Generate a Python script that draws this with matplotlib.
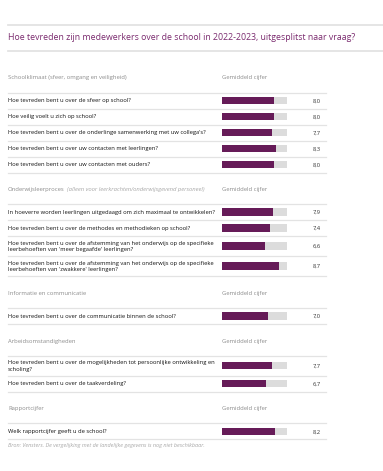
import matplotlib
matplotlib.use("Agg")
import matplotlib.pyplot as plt

# ---------------- data ----------------
title = "Hoe tevreden zijn medewerkers over de school in 2022-2023, uitgesplitst naar vraag?"
value_header = "Gemiddeld cijfer"
sections = [
    "Schoolklimaat (sfeer, omgang en veiligheid)",
    "Onderwijsleerproces",
    "Informatie en communicatie",
    "Arbeidsomstandigheden",
    "Rapportcijfer",
]
section_notes = [
    "",
    "(alleen voor leerkrachten/onderwijsgevend personeel)",
    "",
    "",
    "",
]
questions = [
    [
        "Hoe tevreden bent u over de sfeer op school?",
        "Hoe veilig voelt u zich op school?",
        "Hoe tevreden bent u over de onderlinge samenwerking met uw collega's?",
        "Hoe tevreden bent u over uw contacten met leerlingen?",
        "Hoe tevreden bent u over uw contacten met ouders?",
    ],
    [
        "In hoeverre worden leerlingen uitgedaagd om zich maximaal te ontwikkelen?",
        "Hoe tevreden bent u over de methodes en methodieken op school?",
        "Hoe tevreden bent u over de afstemming van het onderwijs op de specifieke\nleerbehoeften van 'meer begaafde' leerlingen?",
        "Hoe tevreden bent u over de afstemming van het onderwijs op de specifieke\nleerbehoeften van 'zwakkere' leerlingen?",
    ],
    [
        "Hoe tevreden bent u over de communicatie binnen de school?",
    ],
    [
        "Hoe tevreden bent u over de mogelijkheden tot persoonlijke ontwikkeling en\nscholing?",
        "Hoe tevreden bent u over de taakverdeling?",
    ],
    [
        "Welk rapportcijfer geeft u de school?",
    ],
]
scores = [
    [8.0, 8.0, 7.7, 8.3, 8.0],
    [7.9, 7.4, 6.6, 8.7],
    [7.0],
    [7.7, 6.7],
    [8.2],
]
scale_max = 10
footnote = "Bron: Vensters. De vergelijking met de landelijke gegevens is nog niet beschikbaar."

# ---------------- style / layout ----------------
W, H = 383, 471
FONT = "Open Sans"
PURPLE_T = "#7a2a6e"
PURPLE_B = "#661b58"
GREY_BG = "#dcdcdc"
LINE_C = "#e3e3e3"
HEAD_C = "#8c8c8c"

fig = plt.figure(figsize=(W / 100, H / 100), dpi=100)
fig.patch.set_facecolor("white")
ax = fig.add_axes([0, 0, 1, 1])
ax.set_xlim(0, W)
ax.set_ylim(H, 0)
ax.axis("off")

bar_x0, bar_x1 = 222, 287
bx = fig.add_axes([bar_x0 / W, 0, (bar_x1 - bar_x0) / W, 1])
bx.set_xlim(0, scale_max)
bx.set_ylim(H, 0)
bx.axis("off")

left = 8
table_right = 326
val_x = 321

# title block
ax.plot([left, W], [24.5, 24.5], color=LINE_C, lw=1.3)
ax.text(left, 38, title, fontsize=6.35, color=PURPLE_T, family=FONT, va="center", ha="left")
ax.plot([left, W], [51, 51], color=LINE_C, lw=1.3)

txt_size = 4.15
head_size = 4.2
cursor = 61.5
for si, sec in enumerate(sections):
    hy = cursor + (16.5 if si == 0 else 17.2)
    t = ax.text(left, hy, sec, fontsize=head_size, color=HEAD_C, family=FONT, va="center")
    if section_notes[si]:
        fig.canvas.draw()
        bb = t.get_window_extent()
        nx = bb.x1 + 2
        ax.text(nx, hy, section_notes[si], fontsize=head_size, color="#a8a8a8",
                family=FONT, style="italic", va="center")
    ax.text(bar_x0, hy, value_header, fontsize=head_size, color=HEAD_C, family=FONT, va="center")
    ly = hy + 14.5
    ax.plot([left, table_right], [ly, ly], color=LINE_C, lw=0.9)
    cursor = ly
    for q, v in zip(questions[si], scores[si]):
        rh = 20.0 if "\n" in q else 16
        cy = cursor + rh / 2
        ax.text(left, cy + 0.3, q, fontsize=txt_size, color="#111111", family=FONT,
                va="center", linespacing=1.4)
        bx.barh(cy, scale_max, height=7.5, color=GREY_BG, lw=0)
        bx.barh(cy, v, height=7.5, color=PURPLE_B, lw=0)
        ax.text(val_x, cy + 0.5, f"{v:.1f}".replace(".", ","), fontsize=txt_size,
                color="#333333", family=FONT, va="center", ha="right")
        cursor += rh
        ax.plot([left, table_right], [cursor, cursor], color=LINE_C, lw=0.9)

ax.text(left, cursor + 6.0, footnote, fontsize=4.0, color="#a8a8a8", family=FONT,
        style="italic", va="center")

fig.savefig("out.png", dpi=100, facecolor="white")
